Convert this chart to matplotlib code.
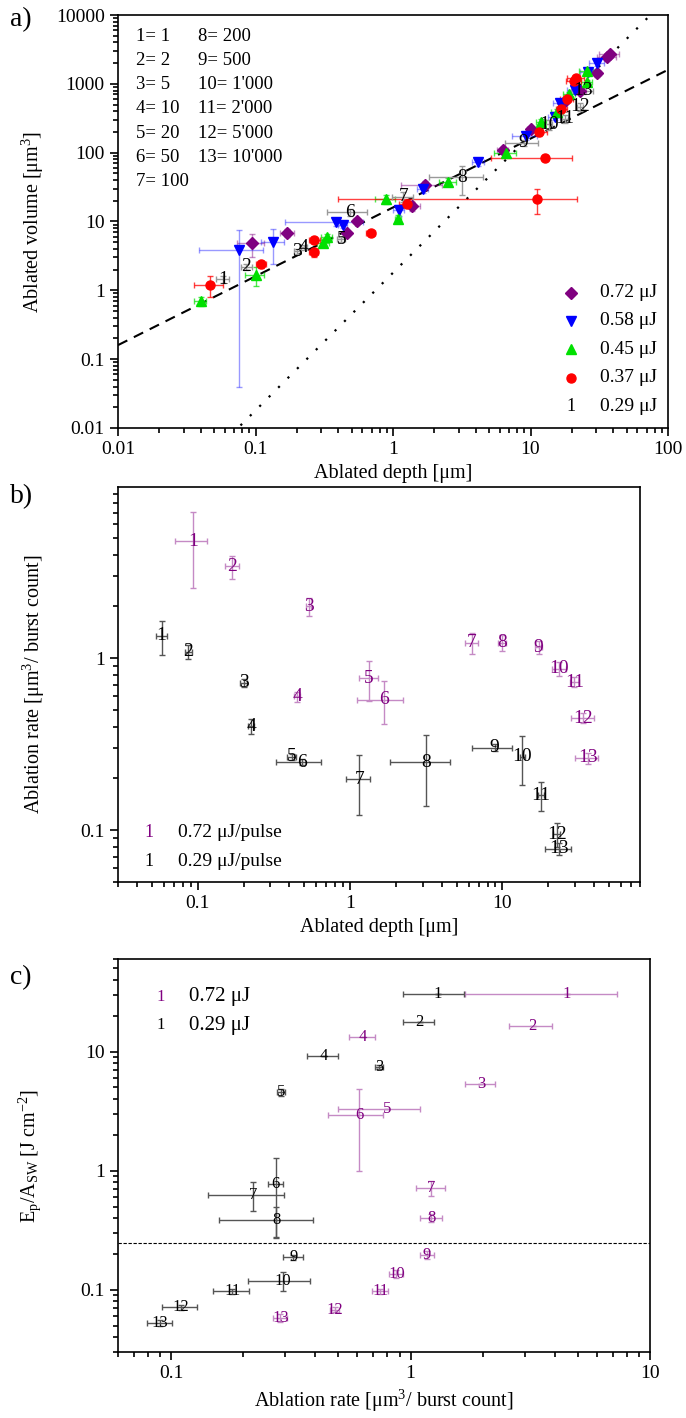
import numpy as np
import matplotlib.pyplot as plt
from matplotlib.ticker import LogLocator, FuncFormatter, NullFormatter

plt.rcParams['font.family'] = ['Liberation Serif', 'DejaVu Serif']
plt.rcParams['mathtext.fontset'] = 'custom'
plt.rcParams['mathtext.rm'] = 'Liberation Serif'
plt.rcParams['mathtext.it'] = 'Liberation Serif:italic'

# burst-count index labels
labels = [str(i) for i in range(1, 14)]
burst_counts = ["1", "2", "5", "10", "20", "50", "100", "200", "500",
                "1'000", "2'000", "5'000", "10'000"]

# ---- panel a: ablated volume vs depth ----
depth_072 = [0.094, 0.17, 0.545, 0.46, 1.37, 1.71, 6.3, 10.0, 17.2, 22.9, 30.5, 36.3, 38.0]
vol_072 = [4.8, 6.9, 10.2, 6.7, 16.6, 34, 108, 218, 523, 790, 1426, 2450, 2700]
dx_072 = [0.021, 0.02, 0.03, 0.02, 0.19, 0.56, 0.6, 0.6, 1.0, 2.5, 2.0, 5.8, 6.3]
dv_072 = [1.7, 1.0, 1.2, 0.6, 2.5, 5, 12, 20, 40, 60, 150, 300, 250]

depth_058 = [0.0755, 0.135, 0.385, 0.43, 1.1, 1.64, 4.17, 9.2, 15.0, 16.3, 21.0, 26.0, 30.5]
vol_058 = [3.8, 5.1, 9.7, 9.0, 14.7, 30, 72, 172, 331, 523, 815, 1500, 2000]
dx_058 = [0.037, 0.025, 0.22, 0.03, 0.1, 0.15, 0.4, 1.9, 1.5, 1.8, 2.5, 3, 4]
dv_058 = [3.76, 2.7, 1.0, 1.0, 2.5, 4, 8, 20, 35, 50, 80, 150, 200]

depth_045 = [0.040, 0.10, 0.31, 0.33, 0.885, 1.09, 2.5, 6.6, 11.9, 15.7, 19.2, 25.7, 25.7]
vol_045 = [0.70, 1.66, 4.8, 6.0, 21, 11, 38, 100, 279, 393, 700, 1050, 1530]
dx_045 = [0.004, 0.016, 0.03, 0.03, 0.15, 0.05, 0.35, 1.2, 1.0, 1.5, 2.0, 2.5, 3.0]
dv_045 = [0.1, 0.5, 0.6, 0.6, 3, 1.5, 5, 10, 30, 40, 60, 100, 150]

depth_037 = [0.047, 0.11, 0.266, 0.268, 0.69, 1.26, 11.1, 12.7, 11.6, 16.8, 18.5, 20.7, 21.5]
vol_037 = [1.19, 2.4, 3.6, 5.4, 6.9, 18, 21.5, 85, 197, 424, 600, 1085, 1200]
dx_037 = [0.011, 0.01, 0.02, 0.025, 0.05, 0.15, 10.7, 7.5, 1.5, 1.5, 2, 2.5, 3]
dv_037 = [0.4, 0.3, 0.5, 0.5, 0.4, 2, 8.5, 8, 20, 40, 60, 100, 120]

depth_029 = [0.058, 0.086, 0.20, 0.225, 0.42, 0.49, 1.19, 3.18, 8.9, 13.6, 17.8, 22.9, 24.2]
vol_029 = [1.44, 2.2, 3.7, 4.2, 5.5, 13.6, 23, 44, 140, 257, 312, 467, 790]
dx_029 = [0.006, 0.008, 0.01, 0.01, 0.03, 0.16, 0.2, 1.36, 2.4, 0.8, 0.9, 1.2, 4.5]
dv_029 = [0.15, 0.2, 0.3, 0.3, 0.4, 1.5, 4, 20, 15, 40, 40, 60, 80]

# reference lines  V = k1*d  and  V = k2*d^2
k_lin = 16.0
k_sq = 1.8

# ---- panel b: ablation rate vs depth ----
b_depth_072 = [0.093, 0.169, 0.537, 0.452, 1.33, 1.67, 6.28, 9.9, 17.3, 23.6, 29.7, 33.9, 36.3]
b_rate_072 = [4.8, 3.42, 2.0, 0.60, 0.765, 0.575, 1.23, 1.23, 1.16, 0.867, 0.726, 0.449, 0.263]
b_dx_072 = [0.022, 0.018, 0.02, 0.02, 0.19, 0.56, 0.6, 0.6, 1.0, 2.5, 2.0, 5.8, 6.3]
b_dr_072 = [2.25, 0.53, 0.23, 0.04, 0.2, 0.16, 0.17, 0.13, 0.1, 0.08, 0.05, 0.03, 0.02]

b_depth_029 = [0.058, 0.087, 0.2, 0.225, 0.415, 0.485, 1.15, 3.17, 8.9, 13.5, 17.9, 22.8, 23.6]
b_rate_029 = [1.35, 1.09, 0.72, 0.403, 0.267, 0.249, 0.198, 0.249, 0.302, 0.267, 0.16, 0.095, 0.078]
b_dx_029 = [0.005, 0.005, 0.01, 0.01, 0.03, 0.16, 0.21, 1.35, 2.6, 0.5, 0.8, 1.2, 4.7]
b_dr_029 = [0.3, 0.1, 0.04, 0.04, 0.01, 0.01, 0.075, 0.11, 0.015, 0.085, 0.03, 0.015, 0.006]

# ---- panel c: Ep/Asw vs ablation rate ----
c_rate_072 = [4.48, 3.24, 1.97, 0.632, 0.8, 0.61, 1.22, 1.22, 1.17, 0.873, 0.748, 0.483, 0.286]
c_flu_072 = [30.5, 16.3, 5.35, 13.2, 3.3, 2.95, 0.714, 0.40, 0.196, 0.136, 0.097, 0.068, 0.058]
c_dx_072 = [2.8, 0.66, 0.28, 0.08, 0.3, 0.16, 0.17, 0.13, 0.08, 0.06, 0.06, 0.02, 0.02]
c_dy_072 = [0, 0, 0, 0, 0, 1.95, 0.1, 0.03, 0.015, 0.01, 0.005, 0.003, 0.004]

c_rate_029 = [1.3, 1.09, 0.74, 0.434, 0.288, 0.274, 0.22, 0.275, 0.324, 0.294, 0.18, 0.11, 0.09]
c_flu_029 = [30.5, 17.9, 7.38, 9.25, 4.55, 0.773, 0.63, 0.387, 0.187, 0.119, 0.097, 0.071, 0.053]
c_dx_029 = [0.37, 0.16, 0.03, 0.065, 0.01, 0.02, 0.077, 0.116, 0.03, 0.085, 0.031, 0.018, 0.011]
c_dy_029 = [0, 0, 0.3, 0, 0.3, 0.5, 0.17, 0.11, 0.01, 0.022, 0.004, 0.003, 0.003]
threshold = 0.245

purple = '#800080'
purple_light = '#c58ac5'

fig = plt.figure(figsize=(6.86, 14.18), dpi=100)
W, H = 686, 1418


def add_axes(l, r, t, b):
    return fig.add_axes([l / W, 1 - b / H, (r - l) / W, (b - t) / H])


def style_log(ax, fs=14):
    for axis in (ax.xaxis, ax.yaxis):
        axis.set_major_locator(LogLocator(base=10, numticks=12))
        axis.set_minor_locator(LogLocator(base=10, subs=np.arange(2, 10), numticks=12))
        axis.set_major_formatter(FuncFormatter(lambda v, p: '%g' % v))
        axis.set_minor_formatter(NullFormatter())
    ax.tick_params(which='both', direction='out', top=False, right=False, labelsize=fs, width=1.2)
    ax.tick_params(which='major', length=6)
    ax.tick_params(which='minor', length=3.5)
    for s in ax.spines.values():
        s.set_linewidth(1.2)


def label_points(ax, x, y, xe, ye, color, ecolor, fs):
    ax.errorbar(x, y, xerr=xe, yerr=ye, fmt='none', ecolor=ecolor,
                elinewidth=1, capsize=2.5, capthick=1, zorder=2)
    for i, (xi, yi) in enumerate(zip(x, y)):
        ax.text(xi, yi, labels[i], ha='center', va='center', color=color,
                fontsize=fs, zorder=4)


# ================= a) =================
ax = add_axes(118, 668, 15, 428)
ax.set_xscale('log')
ax.set_yscale('log')
ax.set_xlim(0.01, 100)
ax.set_ylim(0.01, 10000)
style_log(ax)

xl = np.logspace(-2, 2, 50)
ax.plot(xl, k_lin * xl, color='k', ls=(0, (5, 3.5)), lw=1.5, zorder=1)
ax.plot(xl, k_sq * xl ** 2, color='k', ls=(0, (1, 5)), lw=1.6, zorder=1)

series = [
    (depth_072, vol_072, dx_072, dv_072, purple, 'D', 6, 0.45),
    (depth_058, vol_058, dx_058, dv_058, '#0000ff', 'v', 7.5, 0.4),
    (depth_045, vol_045, dx_045, dv_045, '#00e000', '^', 7.5, 0.7),
    (depth_037, vol_037, dx_037, dv_037, '#ff0000', 'o', 6.5, 0.75),
]
for d, v, ex, ev, c, m, ms, a in series:
    ax.errorbar(d, v, xerr=ex, yerr=ev, fmt='none', ecolor=c, alpha=a,
                elinewidth=1, capsize=2.5, zorder=2)
    ax.plot(d, v, ls='none', marker=m, color=c, ms=ms, zorder=3)
label_points(ax, depth_029, vol_029, dx_029, dv_029, 'k', '#999999', 14)

# burst count table
for i, bc in enumerate(burst_counts):
    col = 0 if i < 7 else 1
    row = i if i < 7 else i - 7
    ax.text(0.032 + 0.113 * col, 0.949 - 0.0587 * row, f"{i + 1}= {bc}",
            transform=ax.transAxes, fontsize=13.5, va='center', ha='left')

# legend
leg_rows = [('D', purple, 6, '0.72 μJ'), ('v', '#0000ff', 7.5, '0.58 μJ'),
            ('^', '#00e000', 7.5, '0.45 μJ'), ('o', '#ff0000', 6.5, '0.37 μJ')]
ys = [0.328, 0.26, 0.191, 0.122, 0.053]
for (m, c, ms, t), yy in zip(leg_rows, ys):
    ax.plot([0.823], [yy], marker=m, color=c, ms=ms, transform=ax.transAxes, ls='none')
    ax.text(0.876, yy, t, transform=ax.transAxes, fontsize=14, va='center')
ax.text(0.823, ys[4], '1', transform=ax.transAxes, fontsize=13, va='center', ha='center')
ax.text(0.876, ys[4], '0.29 μJ', transform=ax.transAxes, fontsize=14, va='center')

ax.set_xlabel('Ablated depth [μm]', fontsize=14.5, labelpad=4)
ax.set_ylabel('Ablated volume [μm$^3$]', fontsize=14.5)
ax.yaxis.set_label_coords(-0.131, 0.5)
fig.text(10 / W, 1 - 20 / H, 'a)', fontsize=20, va='center', ha='left')

# ================= b) =================
ax = add_axes(118, 640, 487, 882)
ax.set_xscale('log')
ax.set_yscale('log')
ax.set_xlim(0.03, 80)
ax.set_ylim(0.05, 9.9)
style_log(ax)
label_points(ax, b_depth_072, b_rate_072, b_dx_072, b_dr_072, purple, purple_light, 14)
label_points(ax, b_depth_029, b_rate_029, b_dx_029, b_dr_029, 'k', '#555555', 14)
ax.text(0.06, 0.125, '1', transform=ax.transAxes, color=purple, fontsize=13, va='center', ha='center')
ax.text(0.1155, 0.125, '0.72 μJ/pulse', transform=ax.transAxes, fontsize=14, va='center')
ax.text(0.06, 0.051, '1', transform=ax.transAxes, color='k', fontsize=13, va='center', ha='center')
ax.text(0.1155, 0.051, '0.29 μJ/pulse', transform=ax.transAxes, fontsize=14, va='center')
ax.set_xlabel('Ablated depth [μm]', fontsize=14.5, labelpad=4)
ax.set_ylabel('Ablation rate [μm$^3$/ burst count]', fontsize=14.5)
ax.yaxis.set_label_coords(-0.136, 0.5)
fig.text(10 / W, 1 - 497 / H, 'b)', fontsize=20, va='center', ha='left')

# ================= c) =================
ax = add_axes(118, 650, 959, 1352)
ax.set_xscale('log')
ax.set_yscale('log')
ax.set_xlim(0.06, 10)
ax.set_ylim(0.03, 60)
style_log(ax)
ax.axhline(threshold, color='k', ls=(0, (3, 1.5)), lw=0.8, zorder=1)
label_points(ax, c_rate_072, c_flu_072, c_dx_072, c_dy_072, purple, purple_light, 12)
label_points(ax, c_rate_029, c_flu_029, c_dx_029, c_dy_029, 'k', '#555555', 12)
ax.text(0.08, 0.904, '1', transform=ax.transAxes, color=purple, fontsize=12, va='center', ha='center')
ax.text(0.134, 0.904, '0.72 μJ', transform=ax.transAxes, fontsize=15, va='center')
ax.text(0.08, 0.832, '1', transform=ax.transAxes, color='k', fontsize=12, va='center', ha='center')
ax.text(0.134, 0.832, '0.29 μJ', transform=ax.transAxes, fontsize=15, va='center')
ax.set_xlabel('Ablation rate [μm$^3$/ burst count]', fontsize=14.5, labelpad=4)
ax.set_ylabel(r'E$_\mathrm{p}$/A$_\mathrm{SW}$ [J cm$^{-2}$]', fontsize=14.5)
ax.yaxis.set_label_coords(-0.141, 0.5)
fig.text(10 / W, 1 - 978 / H, 'c)', fontsize=20, va='center', ha='left')

fig.savefig('out.png', dpi=100)
